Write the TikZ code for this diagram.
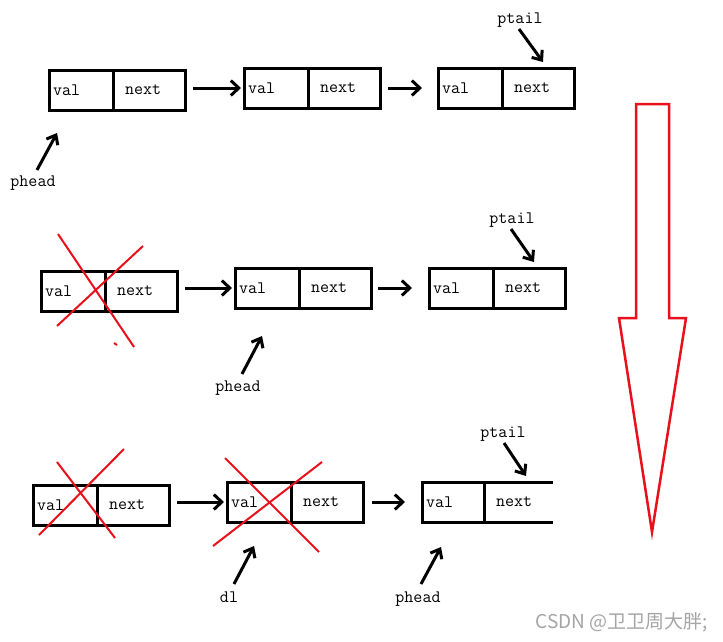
\documentclass[tikz,border=0pt]{standalone}
\usepackage{fontspec}
\newfontfamily\cjkfont{Noto Sans CJK SC}
\usetikzlibrary{arrows.meta}
\definecolor{xred}{RGB}{232,16,26}
\definecolor{wmgray}{RGB}{165,165,165}
\tikzset{
  x=1pt, y=-1pt,
  every node/.style={font=\ttfamily\fontsize{17.5}{17.5}\selectfont},
  vcell/.style={draw, line width=3pt, outer sep=0pt, minimum height=40pt, inner ysep=0pt, inner xsep=4pt, text width=56pt, align=left, anchor=north west},
  ncell/.style={draw, line width=3pt, outer sep=0pt, minimum height=40pt, inner ysep=0pt, inner xsep=4pt, text width=64pt, align=left, anchor=north west},
  ocell/.style={line width=3pt, outer sep=0pt, minimum height=40pt, inner ysep=0pt, inner xsep=4pt, align=left, anchor=north west},
  link/.style={line width=3pt, -{Straight Barb[length=8pt,width=15pt]}},
  ptr/.style={line width=3pt, -{Straight Barb[length=8pt,width=13pt]}},
  cross/.style={xred, line width=2pt},
  lbl/.style={inner sep=0pt},
}
\begin{document}
\begin{tikzpicture}
\useasboundingbox[fill=white] (0,0) rectangle (723,641);
% ---------- row 1 ----------
\node[vcell] (A1v) at (49,70) {val};
\node[ncell] (A1n) at (A1v.north east) {\hspace*{8pt}next};
\node[vcell] (B1v) at (244,68) {val};
\node[ncell] (B1n) at (B1v.north east) {\hspace*{8pt}next};
\node[vcell] (C1v) at (438,68) {val};
\node[ncell] (C1n) at (C1v.north east) {\hspace*{8pt}next};
\draw[link, shorten <=8pt, shorten >=3pt] (A1n.east |- B1v.west) -- (B1v.west);
\draw[link, shorten <=8pt, shorten >=16pt] (B1n.east) -- (C1v.west);
\node[lbl] (ph1) at (33,183) {phead};
\coordinate (ph1s) at (37,170);
\coordinate (ph1t) at (57,133);
\draw[ptr] (ph1s) -- (ph1t);
\node[lbl] (pt1) at (520,20) {ptail};
\coordinate (pt1s) at (519,29);
\coordinate (pt1t) at (543,62);
\draw[ptr] (pt1s) -- (pt1t);
% ---------- row 2 ----------
\node[vcell] (A2v) at (41,271) {val};
\node[ncell] (A2n) at (A2v.north east) {\hspace*{8pt}next};
\node[vcell] (B2v) at (235,268) {val};
\node[ncell] (B2n) at (B2v.north east) {\hspace*{8pt}next};
\node[vcell] (C2v) at (429,268) {val};
\node[ncell] (C2n) at (C2v.north east) {\hspace*{8pt}next};
\draw[link, shorten <=8pt, shorten >=3pt] (A2n.east |- B2v.west) -- (B2v.west);
\draw[link, shorten <=7pt, shorten >=17pt] (B2n.east) -- (C2v.west);
\draw[cross] (58,234) -- (134,347);
\draw[cross] (143,246) -- (57,326);
\draw[cross] (114,343) -- (117,345);
\node[lbl] (ph2) at (238,388) {phead};
\coordinate (ph2s) at (242,374);
\coordinate (ph2t) at (262,336);
\draw[ptr] (ph2s) -- (ph2t);
\node[lbl] (pt2) at (512,220) {ptail};
\coordinate (pt2s) at (511,229);
\coordinate (pt2t) at (534,262);
\draw[ptr] (pt2s) -- (pt2t);
% ---------- row 3 ----------
\node[vcell] (A3v) at (33,485) {val};
\node[ncell] (A3n) at (A3v.north east) {\hspace*{8pt}next};
\node[vcell] (B3v) at (227,482) {val};
\node[ncell] (B3n) at (B3v.north east) {\hspace*{8pt}next};
\node[ocell, text width=54pt] (C3v) at (422,482) {val};
\node[ocell, text width=61pt] (C3n) at (C3v.north east) {\hspace*{8pt}next};
\draw[line width=3pt] (C3n.north east) -- (C3v.north west) -- (C3v.south west) -- (C3n.south east);
\draw[line width=3pt] (C3v.north east) -- (C3v.south east);
\draw[link, shorten <=8pt, shorten >=3pt] (A3n.east |- B3v.west) -- (B3v.west);
\draw[link, shorten <=9pt, shorten >=17pt] (B3n.east) -- (C3v.west);
\draw[cross] (57,462) -- (115,538);
\draw[cross] (124,449) -- (39,535);
\draw[cross] (225,458) -- (319,552);
\draw[cross] (322,462) -- (213,546);
\node[lbl] (dl) at (229,597) {dl};
\coordinate (dls) at (234,584);
\coordinate (dlt) at (254,546);
\draw[ptr] (dls) -- (dlt);
\node[lbl] (ph3) at (418,599) {phead};
\coordinate (ph3s) at (421,584);
\coordinate (ph3t) at (441,547);
\draw[ptr] (ph3s) -- (ph3t);
\node[lbl] (pt3) at (503,434) {ptail};
\coordinate (pt3s) at (504,443);
\coordinate (pt3t) at (526,476);
\draw[ptr] (pt3s) -- (pt3t);
% ---------- big red arrow ----------
\draw[xred, line width=2.5pt, line join=miter]
  (636,104) -- (669,104) -- (669,318) -- (686,318) -- (652,532) -- (619,318) -- (636,318) -- cycle;
% ---------- watermark ----------
\node[lbl, anchor=east, text=wmgray, font=\cjkfont\fontsize{19}{19}\selectfont] (wm) at (708,622) {CSDN @卫卫周大胖;};
\end{tikzpicture}
\end{document}
